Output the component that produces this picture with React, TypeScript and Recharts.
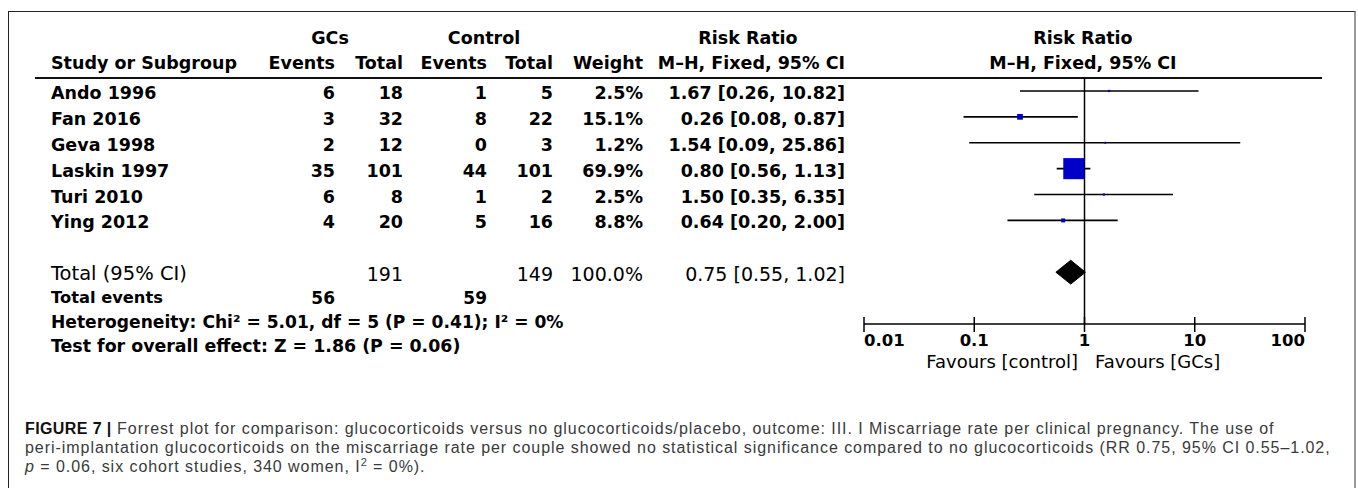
import React from 'react';
import {
  ComposedChart,
  Scatter,
  ErrorBar,
  Area,
  XAxis,
  YAxis,
  ReferenceLine,
} from 'recharts';

// study rows
const studies = ['Ando 1996', 'Fan 2016', 'Geva 1998', 'Laskin 1997', 'Turi 2010', 'Ying 2012'];
const gcEvents = [6, 3, 2, 35, 6, 4];
const gcTotal = [18, 32, 12, 101, 8, 20];
const ctrlEvents = [1, 8, 0, 44, 1, 5];
const ctrlTotal = [5, 22, 3, 101, 2, 16];
const weights = [2.5, 15.1, 1.2, 69.9, 2.5, 8.8];
const riskRatio = [1.67, 0.26, 1.54, 0.8, 1.5, 0.64];
const ciLow = [0.26, 0.08, 0.09, 0.56, 0.35, 0.2];
const ciHigh = [10.82, 0.87, 25.86, 1.13, 6.35, 2.0];

// pooled estimate
const totalLabel = 'Total (95% CI)';
const totalGc = 191;
const totalCtrl = 149;
const totalWeight = 100.0;
const pooledRR = 0.75;
const pooledLow = 0.55;
const pooledHigh = 1.02;
const eventsGc = 56;
const eventsCtrl = 59;
const heterogeneity = 'Heterogeneity: Chi² = 5.01, df = 5 (P = 0.41); I² = 0%';
const overallEffect = 'Test for overall effect: Z = 1.86 (P = 0.06)';

const axisTicks = [0.01, 0.1, 1, 10, 100];
const favoursLeft = 'Favours [control]';
const favoursRight = 'Favours [GCs]';

const TOTAL_ROW = 7;

// layout
const PLOT_TOP = 78;
const PLOT_BOTTOM = 324;
const Y_MIN = -0.5;
const Y_MAX = 9;
const rowY = (i: number) => PLOT_TOP + ((i - Y_MIN) / (Y_MAX - Y_MIN)) * (PLOT_BOTTOM - PLOT_TOP);

const CHART_LEFT = 840;
const CHART_TOP = 70;
const CHART_W = 500;
const CHART_H = 300;

const tableFont = '"DejaVu Sans", sans-serif';

const studyPoints = studies.map((name, i) => ({
  x: riskRatio[i],
  y: i,
  w: weights[i],
  err: [riskRatio[i] - ciLow[i], ciHigh[i] - riskRatio[i]],
}));

const diamond = [
  { x: pooledLow, range: [TOTAL_ROW, TOTAL_ROW] },
  { x: pooledRR, range: [TOTAL_ROW - 0.46, TOTAL_ROW + 0.46] },
  { x: pooledHigh, range: [TOTAL_ROW, TOTAL_ROW] },
];

const fmtCI = (rr: number, lo: number, hi: number) =>
  `${rr.toFixed(2)} [${lo.toFixed(2)}, ${hi.toFixed(2)}]`;

function WeightSquare(props: any) {
  const { cx, cy, payload } = props;
  const side = 1.5 + 0.28 * payload.w;
  return <rect x={cx - side / 2} y={cy - side / 2} width={side} height={side} fill="#0000c8" />;
}

function LogTick(props: any) {
  const { x, y, payload } = props;
  const v = payload.value;
  const anchor = v === axisTicks[0] ? 'start' : v === axisTicks[axisTicks.length - 1] ? 'end' : 'middle';
  return (
    <g>
      <line x1={x} x2={x} y1={y - 7} y2={y + 8} stroke="#000" strokeWidth={1.5} />
      <text
        x={x}
        y={y + 22}
        textAnchor={anchor}
        fontFamily={tableFont}
        fontWeight="bold"
        fontSize={16.5}
        fill="#000"
      >
        {String(v)}
      </text>
    </g>
  );
}

type CellProps = {
  x: number;
  y: number;
  align?: 'left' | 'right' | 'center';
  bold?: boolean;
  size?: number;
  children: React.ReactNode;
};

function Cell({ x, y, align = 'right', bold = true, size = 17.5, children }: CellProps) {
  const shift = align === 'right' ? 'translateX(-100%)' : align === 'center' ? 'translateX(-50%)' : 'none';
  return (
    <div
      style={{
        position: 'absolute',
        left: x,
        top: y - 11,
        height: 22,
        lineHeight: '22px',
        transform: shift,
        whiteSpace: 'nowrap',
        fontFamily: tableFont,
        fontWeight: bold ? 'bold' : 'normal',
        fontSize: size,
        color: '#000',
      }}
    >
      {children}
    </div>
  );
}

// right edges of the numeric columns
const COL = { name: 51, gcE: 335, gcT: 403, cE: 487, cT: 553, wt: 643, ci: 845 };

export default function App() {
  const ty = rowY(TOTAL_ROW) + 2;
  return (
    <div style={{ position: 'absolute', left: 0, top: 0, width: 1358, height: 488, overflow: 'hidden', background: '#fff' }}>
      <div
        style={{
          position: 'absolute',
          left: 8,
          top: 11,
          width: 1348,
          height: 520,
          boxSizing: 'border-box',
          borderTop: '1px solid #222',
          borderLeft: '1px solid #222',
          borderRight: '2px solid #999',
        }}
      />

      {/* column headers */}
      <Cell x={330} y={38} align="center">GCs</Cell>
      <Cell x={484} y={38} align="center">Control</Cell>
      <Cell x={748} y={38} align="center">Risk Ratio</Cell>
      <Cell x={1083} y={38} align="center">Risk Ratio</Cell>
      <Cell x={COL.name} y={63} align="left">Study or Subgroup</Cell>
      <Cell x={COL.gcE} y={63}>Events</Cell>
      <Cell x={COL.gcT} y={63}>Total</Cell>
      <Cell x={COL.cE} y={63}>Events</Cell>
      <Cell x={COL.cT} y={63}>Total</Cell>
      <Cell x={COL.wt} y={63}>Weight</Cell>
      <Cell x={COL.ci} y={63}>M–H, Fixed, 95% CI</Cell>
      <Cell x={1083} y={63} align="center">M–H, Fixed, 95% CI</Cell>
      <div style={{ position: 'absolute', left: 35, top: 77, width: 1287, height: 2, background: '#111' }} />

      {/* study rows */}
      {studies.map((name, i) => {
        const y = rowY(i) + 2;
        return (
          <React.Fragment key={name}>
            <Cell x={COL.name} y={y} align="left">{name}</Cell>
            <Cell x={COL.gcE} y={y}>{gcEvents[i]}</Cell>
            <Cell x={COL.gcT} y={y}>{gcTotal[i]}</Cell>
            <Cell x={COL.cE} y={y}>{ctrlEvents[i]}</Cell>
            <Cell x={COL.cT} y={y}>{ctrlTotal[i]}</Cell>
            <Cell x={COL.wt} y={y}>{weights[i].toFixed(1)}%</Cell>
            <Cell x={COL.ci} y={y}>{fmtCI(riskRatio[i], ciLow[i], ciHigh[i])}</Cell>
          </React.Fragment>
        );
      })}

      {/* pooled row */}
      <Cell x={COL.name} y={ty} align="left" bold={false} size={19.5}>{totalLabel}</Cell>
      <Cell x={COL.gcT} y={ty} bold={false} size={19}>{totalGc}</Cell>
      <Cell x={COL.cT} y={ty} bold={false} size={19}>{totalCtrl}</Cell>
      <Cell x={COL.wt} y={ty} bold={false} size={19}>{totalWeight.toFixed(1)}%</Cell>
      <Cell x={COL.ci} y={ty} bold={false} size={19}>{fmtCI(pooledRR, pooledLow, pooledHigh)}</Cell>
      <Cell x={COL.name} y={298} align="left" size={16.3}>Total events</Cell>
      <Cell x={COL.gcE} y={298} size={17}>{eventsGc}</Cell>
      <Cell x={COL.cE} y={298} size={17}>{eventsCtrl}</Cell>
      <Cell x={COL.name} y={322} align="left" size={17.1}>{heterogeneity}</Cell>
      <Cell x={COL.name} y={346} align="left" size={17.4}>{overallEffect}</Cell>

      {/* forest plot */}
      <div style={{ position: 'absolute', left: CHART_LEFT, top: CHART_TOP }}>
        <ComposedChart
          width={CHART_W}
          height={CHART_H}
          margin={{ top: PLOT_TOP - CHART_TOP, left: 24, right: 35, bottom: CHART_TOP + CHART_H - PLOT_BOTTOM - 40 }}
        >
          <XAxis
            type="number"
            dataKey="x"
            scale="log"
            domain={[0.01, 100]}
            ticks={axisTicks}
            allowDataOverflow
            height={40}
            tickSize={0}
            tickMargin={0}
            tickLine={false}
            axisLine={{ stroke: '#000', strokeWidth: 1.5 }}
            tick={<LogTick />}
            interval={0}
          />
          <YAxis type="number" dataKey="y" domain={[Y_MIN, Y_MAX]} reversed hide allowDataOverflow />
          <ReferenceLine x={1} stroke="#000" strokeWidth={1.5} ifOverflow="visible" />
          <Area
            data={diamond}
            dataKey="range"
            type="linear"
            stroke="#000"
            strokeWidth={1}
            fill="#000"
            fillOpacity={1}
            isAnimationActive={false}
            dot={false}
            activeDot={false}
          />
          <Scatter data={studyPoints} shape={<WeightSquare />} isAnimationActive={false}>
            <ErrorBar dataKey="err" direction="x" width={0} stroke="#000" strokeWidth={1.6} />
          </Scatter>
        </ComposedChart>
      </div>
      <Cell x={1078} y={362} bold={false} size={18}>{favoursLeft}</Cell>
      <Cell x={1095} y={362} align="left" bold={false} size={18}>{favoursRight}</Cell>

      {/* caption */}
      <div
        style={{
          position: 'absolute',
          left: 25,
          top: 419,
          width: 1325,
          fontFamily: '"Liberation Sans", Arial, sans-serif',
          fontSize: 16,
          letterSpacing: 0.95,
          lineHeight: '19px',
          color: '#3a3a3a',
          whiteSpace: 'nowrap',
        }}
      >
        <b style={{ color: '#111', letterSpacing: 0.4 }}>FIGURE 7 |</b> Forrest plot for comparison: glucocorticoids versus no
        glucocorticoids/placebo, outcome: III. I Miscarriage rate per clinical pregnancy. The use of
        <br />
        peri-implantation glucocorticoids on the miscarriage rate per couple showed no statistical significance
        compared to no glucocorticoids (RR 0.75, 95% CI 0.55–1.02,
        <br />
        <i>p</i> = 0.06, six cohort studies, 340 women, I<sup style={{ fontSize: 11, lineHeight: 0 }}>2</sup> = 0%).
      </div>
    </div>
  );
}
